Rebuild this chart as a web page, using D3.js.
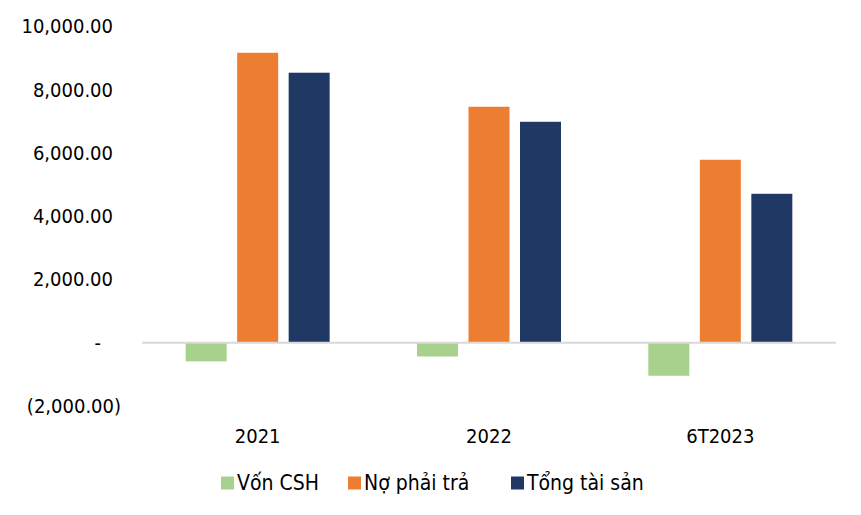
<!DOCTYPE html>
<html>
<head>
<meta charset="utf-8">
<script src="https://cdn.jsdelivr.net/npm/d3@7"></script>
<style>
  html, body { margin: 0; padding: 0; background: #fff; }
  svg { display: block; }
  text { font-family: "DejaVu Sans Condensed", "DejaVu Sans", sans-serif; fill: #000; }
</style>
</head>
<body>
<svg id="chart" width="861" height="515"></svg>
<script>
const categories = ["2021", "2022", "6T2023"];
const seriesNames = ["Vốn CSH", "Nợ phải trả", "Tổng tài sản"];
const vonCSH = [-590, -435, -1045];
const noPhaiTra = [9160, 7455, 5780];
const tongTaiSan = [8530, 6980, 4705];
const yTicks = [-2000, 0, 2000, 4000, 6000, 8000, 10000];

const colors = ["#A9D18E", "#ED7D31", "#203864"];
const seriesValues = [vonCSH, noPhaiTra, tongTaiSan];

const svg = d3.select("#chart");
const plotLeft = 142, plotRight = 836;

const x0 = d3.scaleBand().domain(categories).range([plotLeft, plotRight]).padding(0);
const groupW = 154.5;
const x1 = d3.scaleBand().domain(seriesNames)
  .range([x0.bandwidth() / 2 - groupW / 2, x0.bandwidth() / 2 + groupW / 2])
  .paddingInner(0.204).paddingOuter(0.102);
const y = d3.scaleLinear().domain([-2000, 10000]).range([406, 26.2]);

// bars
const data = [];
categories.forEach((c, i) => {
  seriesNames.forEach((s, j) => {
    data.push({ cat: c, series: s, value: seriesValues[j][i], color: colors[j] });
  });
});

svg.append("g").selectAll("rect").data(data).enter().append("rect")
  .attr("x", d => x0(d.cat) + x1(d.series))
  .attr("width", x1.bandwidth())
  .attr("y", d => y(Math.max(0, d.value)))
  .attr("height", d => Math.abs(y(d.value) - y(0)))
  .attr("fill", d => d.color);

// zero axis line
svg.append("line")
  .attr("x1", plotLeft).attr("x2", plotRight)
  .attr("y1", y(0)).attr("y2", y(0))
  .attr("stroke", "#D9D9D9").attr("stroke-width", 2);

// y tick labels (accounting format)
const fmt = d3.format(",.2f");
svg.append("g").selectAll("text").data(yTicks).enter().append("text")
  .attr("x", d => d < 0 ? 121 : (d === 0 ? 101 : 113))
  .attr("y", d => y(d))
  .attr("dy", "0.35em")
  .attr("text-anchor", "end")
  .attr("font-size", 20)
  .text(d => d === 0 ? "-" : (d < 0 ? "(" + fmt(-d) + ")" : fmt(d)));

// x category labels
svg.append("g").selectAll("text").data(categories).enter().append("text")
  .attr("x", d => x0(d) + x0.bandwidth() / 2)
  .attr("y", 436)
  .attr("dy", "0.35em")
  .attr("text-anchor", "middle")
  .attr("font-size", 20)
  .text(d => d);

// legend
const legendX = [221, 348, 511];
const lg = svg.append("g").selectAll("g").data(seriesNames).enter().append("g")
  .attr("transform", (d, i) => `translate(${legendX[i]},483)`);
lg.append("rect").attr("x", 0).attr("y", -6.5).attr("width", 13).attr("height", 13)
  .attr("fill", (d, i) => colors[i]);
lg.append("text").attr("x", 16).attr("y", 0).attr("dy", "0.35em")
  .attr("font-size", 21).text(d => d);
</script>
</body>
</html>
